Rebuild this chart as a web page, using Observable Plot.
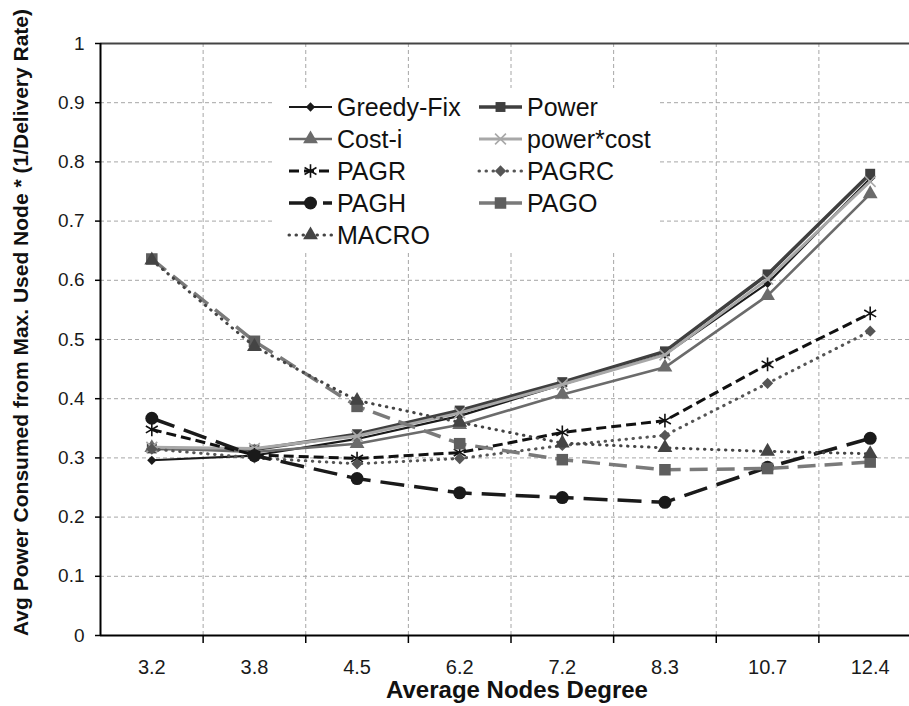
<!DOCTYPE html>
<html><head><meta charset="utf-8">
<script src="https://cdn.jsdelivr.net/npm/d3@7"></script>
<script src="https://cdn.jsdelivr.net/npm/@observablehq/plot@0.6"></script>
<style>
body{margin:0;background:#fff;}
#wrap{position:relative;width:909px;height:706px;overflow:hidden;font-family:"Liberation Sans",Arial,sans-serif;}
#legend{position:absolute;left:275px;top:88px;}
</style></head><body><div id="wrap"></div>
<script>
const categories = ["3.2","3.8","4.5","6.2","7.2","8.3","10.7","12.4"];
const greedyFix = [0.296, 0.304, 0.332, 0.371, 0.424, 0.475, 0.595, 0.772];
const power     = [0.316, 0.314, 0.340, 0.380, 0.428, 0.480, 0.610, 0.780];
const costI     = [0.317, 0.310, 0.324, 0.356, 0.407, 0.453, 0.574, 0.746];
const powerCost = [0.318, 0.316, 0.337, 0.376, 0.424, 0.474, 0.602, 0.767];
const pagr      = [0.348, 0.305, 0.299, 0.309, 0.343, 0.363, 0.458, 0.544];
const pagrc     = [0.315, 0.300, 0.290, 0.299, 0.321, 0.338, 0.426, 0.514];
const pagh      = [0.367, 0.304, 0.265, 0.241, 0.233, 0.225, 0.284, 0.333];
const pago      = [0.636, 0.497, 0.387, 0.324, 0.297, 0.280, 0.282, 0.293];
const macro     = [0.634, 0.488, 0.397, 0.360, 0.325, 0.317, 0.311, 0.307];
const seriesNames = ["Greedy-Fix","Power","Cost-i","power*cost","PAGR","PAGRC","PAGH","PAGO","MACRO"];
const seriesValues = [greedyFix, power, costI, powerCost, pagr, pagrc, pagh, pago, macro];
const yTicks = [0, 0.1, 0.2, 0.3, 0.4, 0.5, 0.6, 0.7, 0.8, 0.9, 1];
const xLabel = "Average Nodes Degree";
const yLabel = "Avg Power Consumed from Max. Used Node * (1/Delivery Rate)";

// styles (kept separate from the data)
const styles = {
  "Greedy-Fix": {stroke:"#1a1a1a", w:2.2, dash:null, cap:"butt", sym:"square", rot:45, r:3.7, fill:"#1a1a1a"},
  "Power":      {stroke:"#3f3f3f", w:3.5, dash:null, cap:"butt", sym:"square", rot:0, r:5.6, fill:"#3f3f3f"},
  "Cost-i":     {stroke:"#6b6b6b", w:2.6, dash:null, cap:"butt", sym:"triangle", rot:0, r:5.5, fill:"#6b6b6b"},
  "power*cost": {stroke:"#a8a8a8", w:3, dash:null, cap:"butt", sym:"times", rot:0, r:5, symStroke:"#a8a8a8"},
  "PAGR":       {stroke:"#111111", w:3, dash:"10,5", cap:"butt", sym:"asterisk", rot:0, r:6.5, symStroke:"#111111"},
  "PAGRC":      {stroke:"#555555", w:3, dash:"0.5,6.5", cap:"round", sym:"square", rot:45, r:4.5, fill:"#555555"},
  "PAGH":       {stroke:"#1a1a1a", w:3.5, dash:"24,10", cap:"butt", sym:"circle", rot:0, r:6.5, fill:"#1a1a1a"},
  "PAGO":       {stroke:"#7a7a7a", w:3.5, dash:"18,9", cap:"butt", sym:"square", rot:0, r:6.5, fill:"#5e5e5e"},
  "MACRO":      {stroke:"#444444", w:3, dash:"0.5,6.5", cap:"round", sym:"triangle", rot:0, r:5.5, fill:"#444444"}
};

const table = seriesNames.flatMap((name, k) =>
  seriesValues[k].map((v, i) => ({series: name, i, v})));

const boundaries = d3.range(categories.length - 1).map(i => i + 0.5);
const font = "Liberation Sans, Arial, sans-serif";

const seriesMarks = seriesNames.flatMap(name => {
  const s = styles[name];
  const d = table.filter(r => r.series === name);
  const dotOpts = {x: "i", y: "v", symbol: s.sym, r: s.r, rotate: s.rot};
  if (s.symStroke) { dotOpts.stroke = s.symStroke; dotOpts.fill = "none"; dotOpts.strokeWidth = 1.6; }
  else { dotOpts.fill = s.fill; dotOpts.stroke = "none"; }
  return [
    Plot.line(d, {x: "i", y: "v", stroke: s.stroke, strokeWidth: s.w,
      strokeDasharray: s.dash, strokeLinecap: s.cap, strokeLinejoin: "round"}),
    Plot.dot(d, dotOpts)
  ];
});

const chart = Plot.plot({
  width: 909,
  height: 706,
  marginLeft: 100,
  marginRight: 0,
  marginTop: 43,
  marginBottom: 71,
  style: {fontFamily: font, fontSize: "19px", background: "white"},
  x: {type: "linear", domain: [-0.5, categories.length - 0.5], range: [100, 921]},
  y: {domain: [0, 1]},
  marks: [
    Plot.gridY(yTicks.filter(d => d > 0 && d < 1), {stroke: "#a6a6a6", strokeOpacity: 1, strokeDasharray: "4,3", strokeWidth: 1}),
    Plot.gridX(boundaries, {stroke: "#a6a6a6", strokeOpacity: 1, strokeDasharray: "4,3", strokeWidth: 1}),
    Plot.ruleY([1], {stroke: "#444", strokeWidth: 2}),
    Plot.axisY({ticks: yTicks, tickFormat: d3.format("~g"), tickSize: 5, tickPadding: 11, fontSize: 19, label: null, stroke: "#000", strokeWidth: 1.5, fill: "#1a1a1a"}),
    Plot.axisX({ticks: boundaries, tickSize: 8, tickFormat: () => "", label: null, stroke: "#000", strokeWidth: 1.5}),
    Plot.axisX({ticks: d3.range(categories.length), tickSize: 0, tickPadding: 24, tickFormat: i => categories[i], fontSize: 20, label: null, fill: "#1a1a1a"}),
    ...seriesMarks,
    Plot.ruleY([0], {stroke: "#000", strokeWidth: 2}),
    Plot.ruleX([-0.5], {stroke: "#000", strokeWidth: 2}),
    Plot.text([xLabel], {text: d => d, frameAnchor: "bottom", dx: 12, dy: 55, fontSize: 24, fontWeight: "bold", lineAnchor: "middle", textAnchor: "middle", fill: "#111"}),
    Plot.text([yLabel], {text: d => d, frameAnchor: "left", rotate: -90, dx: -79, dy: -17, fontSize: 21, fontWeight: "bold", lineAnchor: "middle", textAnchor: "middle", fill: "#111"})
  ]
});
document.getElementById("wrap").appendChild(chart);

// legend
const symTypes = {diamond: d3.symbolDiamond, square: d3.symbolSquare, triangle: d3.symbolTriangle,
  times: d3.symbolTimes, asterisk: d3.symbolAsterisk, circle: d3.symbolCircle};
const leg = d3.select("#wrap").append("svg").attr("id", "legend")
  .attr("width", 385).attr("height", 164).style("background", "#fff");
seriesNames.forEach((name, k) => {
  const s = styles[name];
  const col = k % 2, row = Math.floor(k / 2);
  const y = 19 + row * 32;
  const x0 = col ? 204 : 14;
  leg.append("line").attr("x1", x0).attr("x2", x0 + 43).attr("y1", y).attr("y2", y)
    .attr("stroke", s.stroke).attr("stroke-width", s.w)
    .attr("stroke-dasharray", s.dash).attr("stroke-linecap", s.cap);
  const p = leg.append("path").attr("d", d3.symbol(symTypes[s.sym], Math.PI * s.r * s.r)())
    .attr("transform", `translate(${x0 + 21.5},${y}) rotate(${s.rot})`);
  if (s.symStroke) p.attr("fill", "none").attr("stroke", s.symStroke).attr("stroke-width", 1.6);
  else p.attr("fill", s.fill);
  leg.append("text").attr("x", col ? 252 : 62).attr("y", y).attr("dy", "0.35em")
    .attr("font-family", font).attr("font-size", 25).attr("fill", "#111").text(name);
});
</script></body></html>
